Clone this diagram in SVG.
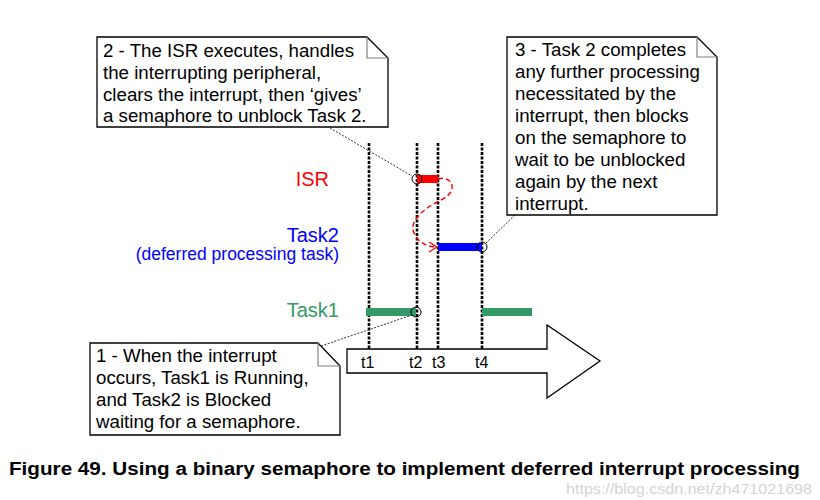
<svg xmlns="http://www.w3.org/2000/svg" width="820" height="500" viewBox="0 0 820 500">
<style>
  text { font-family: "Liberation Sans", Arial, sans-serif; }
  .note { fill: #ffffff; stroke: #000000; stroke-width: 1.3; }
  .fold { fill: none; stroke: #808080; stroke-width: 1.2; }
  .nt { font-size: 18.7px; fill: #000000; }
  .vl { stroke: #000000; stroke-width: 2.6; stroke-dasharray: 3 1.5; fill: none; }
  .lead { stroke: #333333; stroke-width: 1; stroke-dasharray: 2 1.5; fill: none; }
  .pt { fill: none; stroke: #000000; stroke-width: 1; }
  .tl { font-size: 16px; fill: #000000; }
</style>
<defs>
  <marker id="openArrow" markerWidth="12" markerHeight="12" refX="9" refY="5" orient="auto" markerUnits="userSpaceOnUse">
    <path d="M1,0 L9,5 L1,10" fill="none" stroke="#ff0000" stroke-width="1.2"/>
  </marker>
</defs>
<rect width="820" height="500" fill="#ffffff"/>

<!-- time lines -->
<g id="timelines">
  <line class="vl" x1="369" y1="143" x2="369" y2="349"/>
  <line class="vl" x1="417" y1="143" x2="417" y2="349"/>
  <line class="vl" x1="438" y1="143" x2="438" y2="349"/>
  <line class="vl" x1="482" y1="143" x2="482" y2="349"/>
</g>

<!-- time axis arrow -->
<g id="time-axis">
  <polygon points="347,349 547,349 547,325 600,361 547,398 547,373 347,373" fill="#ffffff" stroke="#000000" stroke-width="1.3"/>
  <text class="tl" x="361" y="368">t1</text>
  <text class="tl" x="409" y="368">t2</text>
  <text class="tl" x="432" y="368">t3</text>
  <text class="tl" x="475" y="368">t4</text>
</g>

<!-- lane labels -->
<g id="lane-isr">
  <text x="329" y="186" font-size="20" fill="#ff0000" text-anchor="end">ISR</text>
  <rect x="417" y="175" width="21" height="8" fill="#ff0000"/>
</g>
<g id="lane-task2">
  <text x="339" y="242" font-size="20" fill="#0000ff" text-anchor="end">Task2</text>
  <text x="339" y="260" font-size="17.5" fill="#0000ff" text-anchor="end">(deferred processing task)</text>
  <rect x="438" y="243" width="44" height="8" fill="#0000ff"/>
</g>
<g id="lane-task1">
  <text x="339" y="317" font-size="20" fill="#339966" text-anchor="end">Task1</text>
  <rect x="366" y="308" width="50" height="8" fill="#339966"/>
  <rect x="482" y="308" width="50" height="8" fill="#339966"/>
</g>

<!-- connectors -->
<g id="connectors">
  <line class="lead" x1="330" y1="128" x2="412" y2="176"/>
  <line class="lead" x1="515" y1="215" x2="485" y2="244"/>
  <line class="lead" x1="321" y1="346" x2="412" y2="315"/>
  <path d="M438,179 C452,175 460,191 441,200 C421,210 409,222 414,233 C418,243 428,247 437,247" fill="none" stroke="#ff0000" stroke-width="1.5" stroke-dasharray="5 3" marker-end="url(#openArrow)"/>
  <circle class="pt" cx="417" cy="179" r="5"/>
  <circle class="pt" cx="482" cy="247" r="5"/>
  <circle class="pt" cx="416" cy="312" r="5"/>
</g>

<!-- note 2 -->
<g id="note2">
  <path class="note" d="M97,37 H367 L388,58 V127 H97 Z"/>
  <path class="fold" d="M367,37 V58 H388"/>
  <text class="nt" x="103" y="57">2 - The ISR executes, handles</text>
  <text class="nt" x="103" y="79">the interrupting peripheral,</text>
  <text class="nt" x="103" y="101">clears the interrupt, then ‘gives’</text>
  <text class="nt" x="103" y="122">a semaphore to unblock Task 2.</text>
</g>

<!-- note 3 -->
<g id="note3">
  <path class="note" d="M507,37 H697 L717,57 V215 H507 Z"/>
  <path class="fold" d="M697,37 V57 H717"/>
  <text class="nt" x="515" y="56">3 - Task 2 completes</text>
  <text class="nt" x="515" y="78">any further processing</text>
  <text class="nt" x="515" y="100">necessitated by the</text>
  <text class="nt" x="515" y="122">interrupt, then blocks</text>
  <text class="nt" x="515" y="144">on the semaphore to</text>
  <text class="nt" x="515" y="166">wait to be unblocked</text>
  <text class="nt" x="515" y="188">again by the next</text>
  <text class="nt" x="515" y="210">interrupt.</text>
</g>

<!-- note 1 -->
<g id="note1">
  <path class="note" d="M90,343 H318 L340,366 V435 H90 Z"/>
  <path class="fold" d="M318,343 V366 H340"/>
  <text class="nt" x="96" y="362">1 - When the interrupt</text>
  <text class="nt" x="96" y="384">occurs, Task1 is Running,</text>
  <text class="nt" x="96" y="406">and Task2 is Blocked</text>
  <text class="nt" x="96" y="428">waiting for a semaphore.</text>
</g>

<!-- caption -->
<text x="9" y="475" font-size="18" font-weight="bold" fill="#000000" textLength="791" lengthAdjust="spacingAndGlyphs">Figure 49.  Using a binary semaphore to implement deferred interrupt processing</text>
<text x="566" y="494" font-size="14" fill="#d4d4d4" textLength="246" lengthAdjust="spacingAndGlyphs">https://blog.csdn.net/zh471021698</text>
</svg>
